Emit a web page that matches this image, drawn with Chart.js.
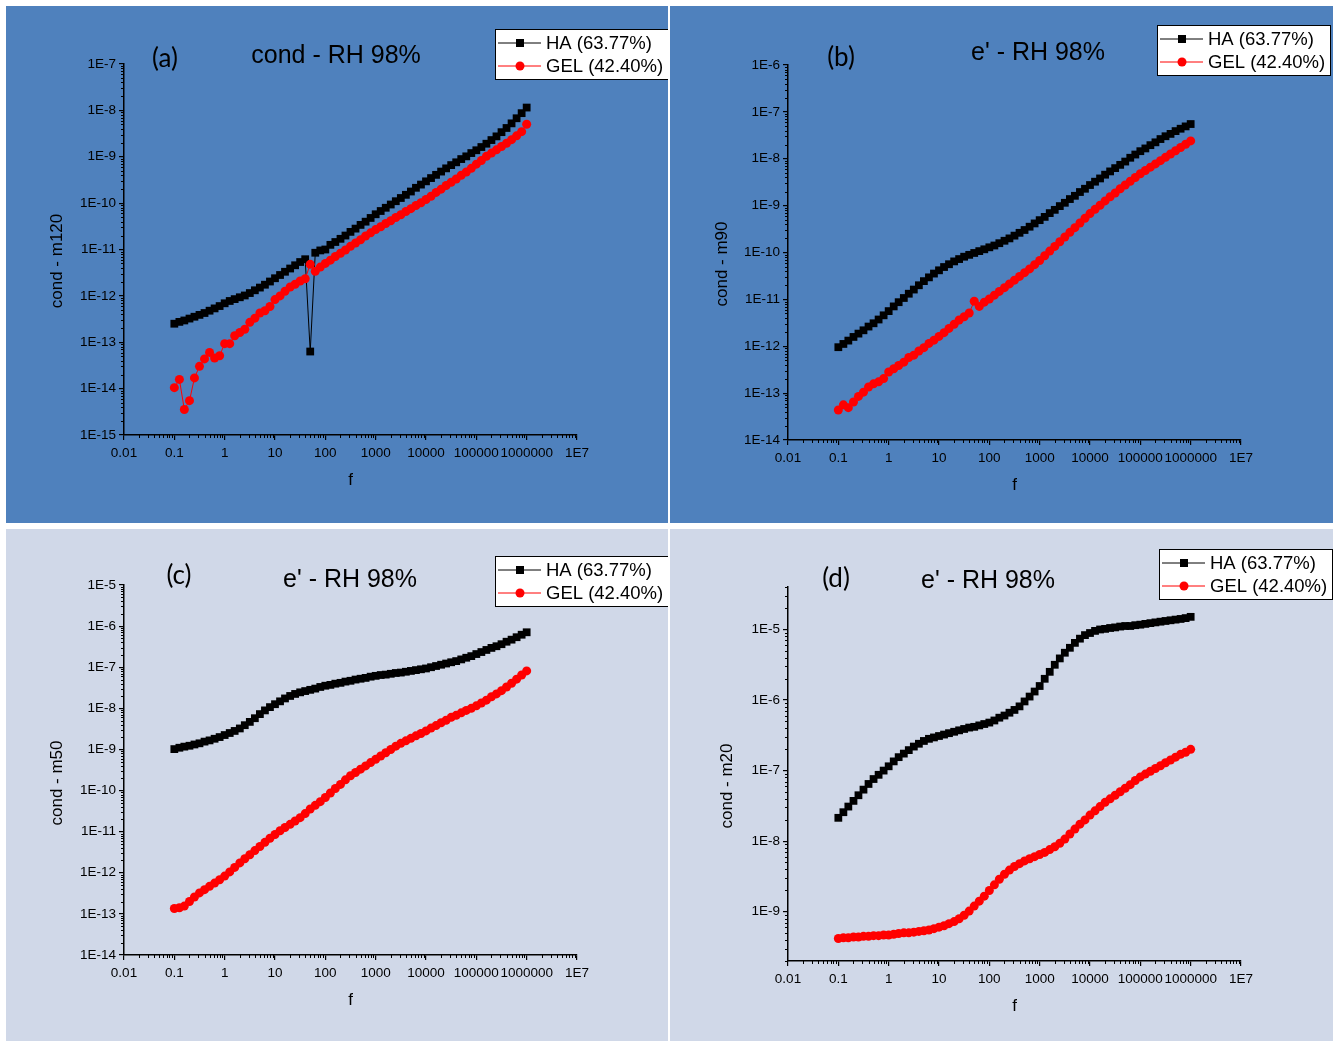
<!DOCTYPE html>
<html>
<head>
<meta charset="utf-8">
<script src="https://cdn.jsdelivr.net/npm/chart.js@4.4.1/dist/chart.umd.min.js"></script>
<style>
  html, body { margin: 0; padding: 0; background: #ffffff; }
  body { width: 1341px; height: 1041px; position: relative; overflow: hidden; }
  .panel { position: absolute; }
  .panel canvas { display: block; }
</style>
</head>
<body>
<div class="panel" style="left:6px;top:6px;width:662px;height:517px;background:#4f81bd"><canvas id="chart-a"></canvas></div>
<div class="panel" style="left:670px;top:6px;width:663px;height:517px;background:#4f81bd"><canvas id="chart-b"></canvas></div>
<div class="panel" style="left:6px;top:529px;width:662px;height:512px;background:#d0d8e8"><canvas id="chart-c"></canvas></div>
<div class="panel" style="left:670px;top:529px;width:663px;height:512px;background:#d0d8e8"><canvas id="chart-d"></canvas></div>
<script>
// frequency f (Hz), 10 points per decade
const freq = [
  0.1, 0.126, 0.158, 0.2, 0.251, 0.316, 0.398, 0.501, 0.631, 0.794,
  1, 1.26, 1.58, 2, 2.51, 3.16, 3.98, 5.01, 6.31, 7.94,
  10, 12.6, 15.8, 20, 25.1, 31.6, 39.8, 50.1, 63.1, 79.4,
  100, 126, 158, 200, 251, 316, 398, 501, 631, 794,
  1000, 1259, 1585, 1995, 2512, 3162, 3981, 5012, 6310, 7943,
  10000, 12589, 15849, 19953, 25119, 31623, 39811, 50119, 63096, 79433,
  100000, 125893, 158489, 199526, 251189, 316228, 398107, 501187, 630957, 794328,
  1000000
];

// (a) cond - m120
const haA = [
  2.51e-13, 2.75e-13, 2.95e-13, 3.24e-13, 3.55e-13, 3.89e-13, 4.27e-13, 4.79e-13, 5.37e-13, 6.03e-13,
  6.92e-13, 7.76e-13, 8.51e-13, 9.33e-13, 1.02e-12, 1.15e-12, 1.32e-12, 1.51e-12, 1.74e-12, 2.04e-12,
  2.40e-12, 2.82e-12, 3.31e-12, 3.89e-12, 4.57e-12, 5.37e-12, 6.17e-12, 6.31e-14, 8.51e-12, 9.55e-12,
  1.00e-11, 1.26e-11, 1.45e-11, 1.70e-11, 2.00e-11, 2.40e-11, 2.82e-11, 3.39e-11, 3.98e-11, 4.79e-11,
  5.75e-11, 6.76e-11, 7.94e-11, 9.33e-11, 1.10e-10, 1.29e-10, 1.51e-10, 1.78e-10, 2.14e-10, 2.51e-10,
  2.95e-10, 3.47e-10, 4.07e-10, 4.79e-10, 5.62e-10, 6.61e-10, 7.59e-10, 8.91e-10, 1.02e-9, 1.20e-9,
  1.38e-9, 1.62e-9, 1.91e-9, 2.29e-9, 2.75e-9, 3.39e-9, 4.17e-9, 5.25e-9, 6.76e-9, 8.71e-9,
  1.15e-8
];
const gelA = [
  1.05e-14, 1.58e-14, 3.55e-15, 5.50e-15, 1.70e-14, 3.02e-14, 4.37e-14, 6.03e-14, 4.57e-14, 5.13e-14,
  9.33e-14, 9.33e-14, 1.38e-13, 1.62e-13, 1.91e-13, 2.69e-13, 3.31e-13, 4.27e-13, 4.79e-13, 5.89e-13,
  8.32e-13, 1.00e-12, 1.26e-12, 1.55e-12, 1.78e-12, 2.09e-12, 2.34e-12, 4.79e-12, 3.39e-12, 4.17e-12,
  5.01e-12, 5.89e-12, 7.08e-12, 8.32e-12, 9.77e-12, 1.17e-11, 1.38e-11, 1.62e-11, 1.95e-11, 2.29e-11,
  2.69e-11, 3.09e-11, 3.63e-11, 4.17e-11, 4.90e-11, 5.62e-11, 6.61e-11, 7.59e-11, 8.91e-11, 1.02e-10,
  1.20e-10, 1.41e-10, 1.70e-10, 2.00e-10, 2.40e-10, 2.82e-10, 3.31e-10, 3.98e-10, 4.68e-10, 5.62e-10,
  6.92e-10, 8.32e-10, 1.02e-9, 1.20e-9, 1.41e-9, 1.66e-9, 1.95e-9, 2.34e-9, 2.82e-9, 3.47e-9,
  5.01e-9
];

// (b) cond - m90
const haB = [
  9.55e-13, 1.12e-12, 1.32e-12, 1.58e-12, 1.86e-12, 2.19e-12, 2.63e-12, 3.09e-12, 3.72e-12, 4.57e-12,
  5.62e-12, 7.08e-12, 8.71e-12, 1.07e-11, 1.32e-11, 1.62e-11, 2.00e-11, 2.45e-11, 2.95e-11, 3.55e-11,
  4.17e-11, 4.90e-11, 5.62e-11, 6.46e-11, 7.24e-11, 8.13e-11, 8.91e-11, 9.77e-11, 1.07e-10, 1.17e-10,
  1.29e-10, 1.41e-10, 1.58e-10, 1.78e-10, 2.00e-10, 2.29e-10, 2.63e-10, 3.02e-10, 3.55e-10, 4.17e-10,
  4.90e-10, 5.75e-10, 6.92e-10, 8.13e-10, 9.77e-10, 1.15e-9, 1.38e-9, 1.62e-9, 1.95e-9, 2.29e-9,
  2.75e-9, 3.24e-9, 3.80e-9, 4.57e-9, 5.37e-9, 6.31e-9, 7.41e-9, 8.71e-9, 1.05e-8, 1.23e-8,
  1.45e-8, 1.66e-8, 1.95e-8, 2.24e-8, 2.63e-8, 3.02e-8, 3.39e-8, 3.89e-8, 4.37e-8, 4.90e-8,
  5.50e-8
];
const gelB = [
  4.37e-14, 5.62e-14, 4.90e-14, 6.46e-14, 8.51e-14, 1.05e-13, 1.35e-13, 1.58e-13, 1.74e-13, 2.04e-13,
  2.82e-13, 3.31e-13, 3.89e-13, 4.57e-13, 5.75e-13, 6.46e-13, 7.94e-13, 9.33e-13, 1.15e-12, 1.35e-12,
  1.62e-12, 1.95e-12, 2.40e-12, 2.95e-12, 3.63e-12, 4.27e-12, 5.13e-12, 9.12e-12, 7.08e-12, 8.71e-12,
  1.02e-11, 1.23e-11, 1.48e-11, 1.78e-11, 2.14e-11, 2.57e-11, 3.09e-11, 3.72e-11, 4.47e-11, 5.50e-11,
  6.76e-11, 8.51e-11, 1.07e-10, 1.35e-10, 1.70e-10, 2.14e-10, 2.69e-10, 3.39e-10, 4.27e-10, 5.37e-10,
  6.76e-10, 8.32e-10, 1.02e-9, 1.26e-9, 1.55e-9, 1.86e-9, 2.29e-9, 2.75e-9, 3.31e-9, 3.98e-9,
  4.79e-9, 5.62e-9, 6.61e-9, 7.76e-9, 9.12e-9, 1.07e-8, 1.26e-8, 1.48e-8, 1.74e-8, 2.04e-8,
  2.40e-8
];

// (c) cond - m50
const haC = [
  1.02e-9, 1.10e-9, 1.17e-9, 1.23e-9, 1.32e-9, 1.41e-9, 1.55e-9, 1.66e-9, 1.82e-9, 2.00e-9,
  2.24e-9, 2.51e-9, 2.82e-9, 3.24e-9, 3.89e-9, 4.68e-9, 5.75e-9, 7.24e-9, 8.91e-9, 1.07e-8,
  1.26e-8, 1.48e-8, 1.74e-8, 2.00e-8, 2.24e-8, 2.45e-8, 2.63e-8, 2.82e-8, 3.02e-8, 3.31e-8,
  3.55e-8, 3.72e-8, 3.98e-8, 4.17e-8, 4.47e-8, 4.68e-8, 5.01e-8, 5.25e-8, 5.50e-8, 5.89e-8,
  6.17e-8, 6.46e-8, 6.61e-8, 6.92e-8, 7.24e-8, 7.41e-8, 7.76e-8, 8.13e-8, 8.51e-8, 8.91e-8,
  9.33e-8, 1.00e-7, 1.07e-7, 1.15e-7, 1.23e-7, 1.32e-7, 1.41e-7, 1.55e-7, 1.70e-7, 1.86e-7,
  2.09e-7, 2.34e-7, 2.63e-7, 2.95e-7, 3.24e-7, 3.63e-7, 4.17e-7, 4.68e-7, 5.37e-7, 6.17e-7,
  7.08e-7
];
const gelC = [
  1.35e-13, 1.41e-13, 1.55e-13, 2.00e-13, 2.57e-13, 3.24e-13, 3.89e-13, 4.68e-13, 5.62e-13, 6.76e-13,
  8.32e-13, 1.05e-12, 1.35e-12, 1.74e-12, 2.19e-12, 2.75e-12, 3.47e-12, 4.37e-12, 5.50e-12, 6.92e-12,
  8.51e-12, 1.05e-11, 1.26e-11, 1.51e-11, 1.82e-11, 2.19e-11, 2.75e-11, 3.55e-11, 4.37e-11, 5.37e-11,
  6.76e-11, 8.71e-11, 1.12e-10, 1.41e-10, 1.82e-10, 2.29e-10, 2.75e-10, 3.31e-10, 3.98e-10, 4.79e-10,
  5.75e-10, 6.92e-10, 8.32e-10, 1.00e-9, 1.20e-9, 1.41e-9, 1.62e-9, 1.86e-9, 2.14e-9, 2.45e-9,
  2.82e-9, 3.31e-9, 3.80e-9, 4.47e-9, 5.13e-9, 6.03e-9, 6.76e-9, 7.76e-9, 8.91e-9, 1.00e-8,
  1.15e-8, 1.35e-8, 1.58e-8, 1.91e-8, 2.24e-8, 2.69e-8, 3.31e-8, 4.07e-8, 5.13e-8, 6.46e-8,
  8.13e-8
];

// (d) cond - m20
const haD = [
  2.14e-8, 2.57e-8, 3.09e-8, 3.72e-8, 4.47e-8, 5.37e-8, 6.46e-8, 7.59e-8, 8.71e-8, 1.00e-7,
  1.15e-7, 1.35e-7, 1.55e-7, 1.74e-7, 1.95e-7, 2.19e-7, 2.40e-7, 2.63e-7, 2.82e-7, 2.95e-7,
  3.09e-7, 3.24e-7, 3.39e-7, 3.55e-7, 3.72e-7, 3.89e-7, 4.07e-7, 4.17e-7, 4.37e-7, 4.57e-7,
  4.79e-7, 5.13e-7, 5.62e-7, 6.03e-7, 6.61e-7, 7.24e-7, 8.13e-7, 9.55e-7, 1.12e-6, 1.32e-6,
  1.58e-6, 2.00e-6, 2.51e-6, 3.16e-6, 3.89e-6, 4.68e-6, 5.50e-6, 6.46e-6, 7.41e-6, 8.32e-6,
  8.91e-6, 9.55e-6, 1.00e-5, 1.02e-5, 1.05e-5, 1.07e-5, 1.10e-5, 1.12e-5, 1.12e-5, 1.15e-5,
  1.17e-5, 1.20e-5, 1.23e-5, 1.26e-5, 1.29e-5, 1.32e-5, 1.35e-5, 1.38e-5, 1.41e-5, 1.45e-5,
  1.51e-5
];
const gelD = [
  4.17e-10, 4.27e-10, 4.27e-10, 4.37e-10, 4.37e-10, 4.47e-10, 4.47e-10, 4.57e-10, 4.57e-10, 4.68e-10,
  4.68e-10, 4.79e-10, 4.90e-10, 5.01e-10, 5.01e-10, 5.13e-10, 5.25e-10, 5.37e-10, 5.50e-10, 5.75e-10,
  6.03e-10, 6.31e-10, 6.76e-10, 7.24e-10, 7.94e-10, 8.91e-10, 1.02e-9, 1.20e-9, 1.41e-9, 1.66e-9,
  2.00e-9, 2.40e-9, 2.88e-9, 3.39e-9, 3.89e-9, 4.37e-9, 4.79e-9, 5.25e-9, 5.62e-9, 6.03e-9,
  6.46e-9, 6.92e-9, 7.59e-9, 8.32e-9, 9.33e-9, 1.07e-8, 1.26e-8, 1.48e-8, 1.74e-8, 2.00e-8,
  2.34e-8, 2.69e-8, 3.09e-8, 3.55e-8, 3.98e-8, 4.47e-8, 5.01e-8, 5.62e-8, 6.31e-8, 7.24e-8,
  8.13e-8, 8.91e-8, 9.77e-8, 1.07e-7, 1.17e-7, 1.29e-7, 1.41e-7, 1.55e-7, 1.70e-7, 1.82e-7,
  2.00e-7
];

const seriesLabels = ['HA (63.77%)', 'GEL (42.40%)'];

// axis ticks
const freqTicks = [0.01, 0.1, 1, 10, 100, 1000, 10000, 100000, 1000000, 10000000];
const freqTickLabels = ['0.01', '0.1', '1', '10', '100', '1000', '10000', '100000', '1000000', '1E7'];
const yTicksA = [1e-15, 1e-14, 1e-13, 1e-12, 1e-11, 1e-10, 1e-9, 1e-8, 1e-7];
const yTicksB = [1e-14, 1e-13, 1e-12, 1e-11, 1e-10, 1e-9, 1e-8, 1e-7, 1e-6];
const yTicksC = [1e-14, 1e-13, 1e-12, 1e-11, 1e-10, 1e-9, 1e-8, 1e-7, 1e-6, 1e-5];
const yTicksD = [1e-9, 1e-8, 1e-7, 1e-6, 1e-5];

const FONT = "'Liberation Sans', Arial, sans-serif";
const TAG_FONT = "Lato, 'Open Sans', sans-serif";

const panels = [
  { canvas: 'chart-a', tag: '(a)', title: 'cond - RH 98%', yTitle: 'cond - m120', ha: haA, gel: gelA,
    yMin: 1e-15, yMax: 1e-7, yTicks: yTicksA,
    pad: { left: 68, right: 91, top: 58, bottom: 48 },
    tagPos: [159, 53], titlePos: [330, 50], yTitlePos: [51, 255], legendPos: [489, 23] },
  { canvas: 'chart-b', tag: '(b)', title: "e' - RH 98%", yTitle: 'cond - m90', ha: haB, gel: gelB,
    yMin: 1e-14, yMax: 1e-6, yTicks: yTicksB,
    pad: { left: 68, right: 92, top: 59, bottom: 43 },
    tagPos: [171, 52], titlePos: [368, 47], yTitlePos: [52, 258], legendPos: [487, 19] },
  { canvas: 'chart-c', tag: '(c)', title: "e' - RH 98%", yTitle: 'cond - m50', ha: haC, gel: gelC,
    yMin: 1e-14, yMax: 1e-5, yTicks: yTicksC,
    pad: { left: 68, right: 91, top: 56, bottom: 46 },
    tagPos: [173, 47], titlePos: [344, 51], yTitlePos: [51, 254], legendPos: [489, 27] },
  { canvas: 'chart-d', tag: '(d)', title: "e' - RH 98%", yTitle: 'cond - m20', ha: haD, gel: gelD,
    yMin: 2e-10, yMax: 4e-5, yTicks: yTicksD,
    pad: { left: 68, right: 92, top: 58, bottom: 40 },
    tagPos: [166, 50], titlePos: [318, 52], yTitlePos: [57, 257], legendPos: [489, 20] }
];

function minorTicks(ctx, scale, horizontal, area) {
  const lo = Math.floor(Math.log10(scale.min));
  const hi = Math.ceil(Math.log10(scale.max));
  for (let e = lo; e < hi; e++) {
    for (let m = 2; m <= 9; m++) {
      const v = m * Math.pow(10, e);
      if (v < scale.min || v > scale.max) continue;
      const p = Math.round(scale.getPixelForValue(v)) + 0.5;
      if (horizontal) {
        ctx.moveTo(p, area.bottom);
        ctx.lineTo(p, area.bottom + 3);
      } else {
        ctx.moveTo(area.left, p);
        ctx.lineTo(area.left - 3, p);
      }
    }
  }
}

function makeDecor(p) {
  return {
    id: 'decor',
    afterDraw(chart) {
      const ctx = chart.ctx;
      const area = chart.chartArea;
      ctx.save();

      // minor ticks
      ctx.strokeStyle = '#000';
      ctx.lineWidth = 1;
      ctx.beginPath();
      minorTicks(ctx, chart.scales.x, true, area);
      minorTicks(ctx, chart.scales.y, false, area);
      ctx.stroke();

      // panel tag and title
      ctx.fillStyle = '#000';
      ctx.textAlign = 'center';
      ctx.textBaseline = 'middle';
      ctx.font = '26px ' + TAG_FONT;
      ctx.fillText(p.tag, p.tagPos[0], p.tagPos[1]);
      ctx.font = '25px ' + FONT;
      ctx.fillText(p.title, p.titlePos[0], p.titlePos[1]);

      // axis titles
      ctx.font = '17px ' + FONT;
      ctx.fillText('f', (area.left + area.right) / 2, area.bottom + 45);
      ctx.save();
      ctx.translate(p.yTitlePos[0], p.yTitlePos[1]);
      ctx.rotate(-Math.PI / 2);
      ctx.fillText(p.yTitle, 0, 0);
      ctx.restore();

      // legend box
      const [lx, ly] = p.legendPos;
      const lw = 173, lh = 50;
      ctx.fillStyle = '#fff';
      ctx.fillRect(lx, ly, lw, lh);
      ctx.strokeStyle = '#000';
      ctx.lineWidth = 1;
      ctx.strokeRect(lx + 0.5, ly + 0.5, lw, lh);
      chart.data.datasets.forEach((ds, i) => {
        const cy = ly + 14 + i * 23;
        ctx.strokeStyle = ds.borderColor;
        ctx.lineWidth = 1;
        ctx.beginPath();
        ctx.moveTo(lx + 3, cy);
        ctx.lineTo(lx + 46, cy);
        ctx.stroke();
        ctx.fillStyle = ds.pointBackgroundColor;
        if (ds.pointStyle === 'rect') {
          ctx.fillRect(lx + 21, cy - 4, 8, 8);
        } else {
          ctx.beginPath();
          ctx.arc(lx + 25, cy, 4.5, 0, Math.PI * 2);
          ctx.fill();
        }
        ctx.fillStyle = '#000';
        ctx.textAlign = 'left';
        ctx.font = '18.5px ' + FONT;
        ctx.fillText(ds.label, lx + 51, cy + 1);
      });
      ctx.restore();
    }
  };
}

function axisStyle() {
  return {
    border: { display: true, color: '#000', width: 1.5 },
    grid: { display: true, drawOnChartArea: false, drawTicks: true, tickLength: 5, color: '#000', lineWidth: 1.2 }
  };
}

panels.forEach(p => {
  const config = {
    type: 'line',
    data: {
      datasets: [{
        label: seriesLabels[0],
        data: freq.map((f, i) => ({ x: f, y: p.ha[i] })),
        borderColor: '#000000',
        backgroundColor: '#000000',
        pointBackgroundColor: '#000000',
        borderWidth: 1,
        pointStyle: 'rect',
        pointRadius: 5.5,
        pointBorderWidth: 0,
        order: 1
      }, {
        label: seriesLabels[1],
        data: freq.map((f, i) => ({ x: f, y: p.gel[i] })),
        borderColor: '#ff0000',
        backgroundColor: '#ff0000',
        pointBackgroundColor: '#ff0000',
        borderWidth: 1,
        pointStyle: 'circle',
        pointRadius: 4.5,
        pointBorderWidth: 0,
        order: 0
      }]
    },
    options: {
      responsive: true,
      maintainAspectRatio: false,
      devicePixelRatio: 1,
      animation: false,
      events: [],
      layout: { padding: p.pad },
      plugins: { legend: { display: false }, tooltip: { enabled: false } },
      scales: {
        x: Object.assign(axisStyle(), {
          type: 'logarithmic',
          min: 0.01,
          max: 1e7,
          afterFit: s => { s.height = 40; },
          afterBuildTicks: s => { s.ticks = freqTicks.map(v => ({ value: v })); },
          ticks: {
            autoSkip: false, maxRotation: 0, minRotation: 0, padding: 5, color: '#000',
            font: { family: FONT, size: 13.5 },
            callback: v => freqTickLabels[freqTicks.indexOf(v)]
          }
        }),
        y: Object.assign(axisStyle(), {
          type: 'logarithmic',
          min: p.yMin,
          max: p.yMax,
          afterFit: s => { s.width = 50; },
          afterBuildTicks: s => { s.ticks = p.yTicks.map(v => ({ value: v })); },
          ticks: {
            autoSkip: false, padding: 3, color: '#000',
            font: { family: FONT, size: 13.5 },
            callback: v => '1E' + Math.round(Math.log10(v))
          }
        })
      }
    },
    plugins: [makeDecor(p)]
  };
  new Chart(document.getElementById(p.canvas), config);
});
</script>
</body>
</html>
